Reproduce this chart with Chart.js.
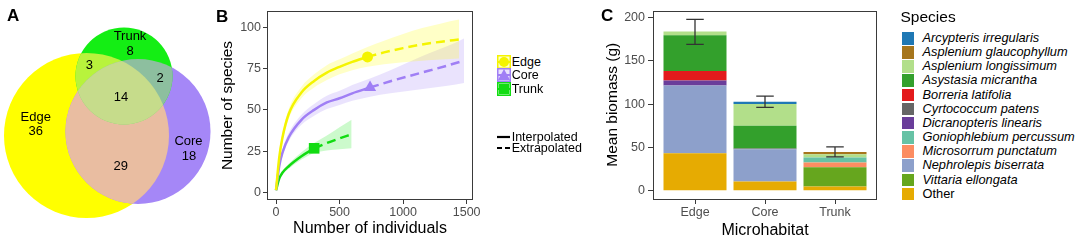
<!DOCTYPE html>
<html lang="en">
<head>
<meta charset="UTF-8">
<title>Species richness and biomass by microhabitat</title>
<script src="https://cdn.jsdelivr.net/npm/chart.js"></script>
<style>
  body { margin: 0; background: #fff; font-family: "Liberation Sans", Arial, sans-serif; }
  #fig { position: relative; width: 1084px; height: 240px; overflow: hidden; }
  canvas { position: absolute; top: 0; }
  .tag { position: absolute; font-weight: bold; font-size: 17px; line-height: 17px; }
  .row { position: absolute; white-space: nowrap; color: #000; }
  .row svg, .row .key { position: absolute; left: 0; }
</style>
</head>
<body>
<div id="fig">
  <canvas id="venn" width="215" height="240" style="left:0"></canvas>
  <canvas id="rare" width="280" height="240" style="left:210px"></canvas>
  <canvas id="bio" width="290" height="240" style="left:590px"></canvas>
  <div class="tag" style="left:7px;top:7px">A</div>
  <div class="tag" style="left:216px;top:8px">B</div>
  <div class="tag" style="left:601px;top:7px">C</div>
  <div id="legB"></div>
  <div id="legC"></div>
</div>

<script>
// ---- A: Venn counts ----
const vennSets = ['Edge', 'Trunk', 'Core'];
const vennRegions = ['Edge', 'Trunk', 'Core', 'Edge+Trunk', 'Trunk+Core', 'Edge+Core', 'All'];
const vennCounts = [36, 8, 18, 3, 2, 29, 14];

// ---- B: rarefaction (interpolated) and extrapolated species curves ----
const edgeInterpX = [0, 25, 50, 100, 200, 300, 400, 500, 600, 720];
const edgeInterpY = [1.5, 21, 33, 47.5, 60.5, 67.5, 72.5, 76, 79, 82];
const edgeExtrapX = [720, 850, 1000, 1150, 1300, 1440];
const edgeExtrapY = [82, 84.7, 87.3, 89.5, 91.2, 92.5];
const edgeLower = [1.5, 19, 30.5, 44.5, 57, 63.5, 68, 71.5, 74, 76, 77.5, 78.8, 79.7, 80.4, 81];
const edgeUpper = [1.5, 23, 35.5, 50.5, 64, 71.5, 77, 80.5, 84, 88, 91.8, 95.8, 99.4, 102.2, 104.5];

const coreInterpX = [0, 25, 50, 100, 200, 300, 400, 500, 600, 740];
const coreInterpY = [1.5, 16, 24, 33.5, 44, 50, 54.5, 57, 60, 63.5];
const coreExtrapX = [740, 900, 1050, 1200, 1350, 1480];
const coreExtrapY = [63.5, 67.3, 70.5, 73.6, 76.8, 79.8];
const coreLower = [1.5, 14.5, 22, 31, 41, 46.5, 50.5, 53, 55.5, 58, 60, 61.5, 63, 64.5, 66.3];
const coreUpper = [1.5, 17.5, 26, 36, 47, 53.5, 58.5, 61.5, 65, 69, 74, 79, 84, 88.5, 93.2];

const trunkInterpX = [0, 25, 50, 100, 200, 300];
const trunkInterpY = [1.5, 8.5, 12, 16, 22, 26.8];
const trunkExtrapX = [300, 400, 500, 595];
const trunkExtrapY = [26.8, 30, 32.8, 35.3];
const trunkLower = [1.5, 7.5, 11, 14.5, 20, 24, 25.5, 26.3, 26.8];
const trunkUpper = [1.5, 9.5, 13, 17.5, 24.5, 30, 34.5, 39.5, 44];

const richTicksX = [0, 500, 1000, 1500];
const richTicksY = [0, 25, 50, 75, 100];

// ---- C: mean biomass (g) per microhabitat, stacked by species ----
const microhabitats = ['Edge', 'Core', 'Trunk'];
const species = ['Arcypteris irregularis', 'Asplenium glaucophyllum', 'Asplenium longissimum',
  'Asystasia micrantha', 'Borreria latifolia', 'Cyrtococcum patens', 'Dicranopteris linearis',
  'Goniophlebium percussum', 'Microsorrum punctatum', 'Nephrolepis biserrata', 'Vittaria ellongata', 'Other'];
const arcypteris   = [0, 2.7, 0];
const aGlauco      = [0, 0, 2.6];
const aLongis      = [4.2, 25, 3.9];
const asystasia    = [41.5, 26.4, 0];
const borreria     = [10.8, 0, 0];
const cyrtococcum  = [0, 0.8, 0];
const dicranopteris = [5.8, 0, 0];
const goniophlebium = [0, 0, 5.8];
const microsorrum  = [0, 0, 5.3];
const nephrolepis  = [78.3, 37.3, 0];
const vittaria     = [0, 0, 22.3];
const other        = [43.4, 10.7, 4.9];
const meanBiomass = [183.7, 102.9, 44.9];
const seBiomass = [14.4, 6.5, 5.7];
const biomassTicks = [0, 50, 100, 150, 200];

// ---- styles ----
const speciesColors = ['#1f78b4', '#a6761d', '#b2df8a', '#33a02c', '#e31a1c', '#666666',
  '#6a3d9a', '#66c2a5', '#fc8d62', '#8da0cb', '#66a61e', '#e6ab02'];
const FONT = "'Liberation Sans', Arial, sans-serif";
Chart.defaults.font.family = FONT;
Chart.defaults.animation = false;
Chart.defaults.plugins.legend.display = false;
Chart.defaults.plugins.tooltip.enabled = false;

// frame around the plotting panel
const panelBox = {
  id: 'panelBox',
  afterDraw(chart) {
    const a = chart.chartArea, ctx = chart.ctx;
    ctx.save();
    ctx.strokeStyle = '#3a3a3a';
    ctx.lineWidth = 1;
    ctx.strokeRect(Math.round(a.left) + 0.5, Math.round(a.top) + 0.5,
      Math.round(a.right - a.left) - 1, Math.round(a.bottom - a.top) - 1);
    ctx.restore();
  }
};

// ================= A: Venn =================
// circle geometry in panel units (the panel is 215 x 240)
const vennCircles = [
  { cx: 86.5, cy: 135.5, r: 82.5 },  // Edge
  { cx: 124, cy: 76, r: 48.5 },      // Trunk
  { cx: 138, cy: 131.5, r: 72.5 }    // Core
];
const vennRegionColor = ['#ffff00', '#14ee14', '#a587f7', '#b8f33c', '#8dbf9f', '#e9bda1', '#c6dc8b'];
const vennRegionSets = [[0], [1], [2], [0, 1], [1, 2], [0, 2], [0, 1, 2]];
const vennNamePos = [[35.7, 117], [130, 36.5], [188.5, 141.5]];
const vennCountPos = [[35.7, 131.5], [130, 51], [189, 156], [89.3, 65], [160, 78], [120.7, 166], [121, 97]];

const vennPlugin = {
  id: 'vennPlugin',
  afterDatasetsDraw(chart) {
    const { ctx, scales: { x, y } } = chart;
    const circ = (i) => {
      const c = vennCircles[i];
      const px = x.getPixelForValue(c.cx), py = y.getPixelForValue(c.cy);
      const pr = Math.abs(x.getPixelForValue(c.cx + c.r) - px);
      ctx.beginPath();
      ctx.arc(px, py, pr, 0, Math.PI * 2);
    };
    // single circles, then the overlaps painted over them
    [0, 2, 1].forEach(i => {
      circ(i);
      ctx.fillStyle = vennRegionColor[i];
      ctx.fill();
    });
    [5, 3, 4, 6].forEach(k => {
      ctx.save();
      vennRegionSets[k].forEach(i => { circ(i); ctx.clip(); });
      ctx.fillStyle = vennRegionColor[k];
      ctx.fillRect(0, 0, chart.width, chart.height);
      ctx.restore();
    });
    ctx.save();
    ctx.fillStyle = '#000';
    ctx.font = '13px ' + FONT;
    ctx.textAlign = 'center';
    ctx.textBaseline = 'middle';
    vennSets.forEach((s, i) => {
      ctx.fillText(s, x.getPixelForValue(vennNamePos[i][0]), y.getPixelForValue(vennNamePos[i][1]));
    });
    vennCounts.forEach((n, i) => {
      ctx.fillText(String(n), x.getPixelForValue(vennCountPos[i][0]), y.getPixelForValue(vennCountPos[i][1]));
    });
    ctx.restore();
  }
};

new Chart(document.getElementById('venn'), {
  type: 'scatter',
  data: { datasets: [{ data: [] }] },
  options: {
    responsive: false,
    layout: { padding: 0 },
    scales: {
      x: { type: 'linear', min: 0, max: 215, display: false },
      y: { type: 'linear', min: 0, max: 240, reverse: true, display: false }
    }
  },
  plugins: [vennPlugin]
});

// ================= B: rarefaction curves =================
const pts = (xs, ys) => xs.map((v, i) => ({ x: v, y: ys[i] }));
const habitats = [
  { name: 'Edge', col: '#f4f400', band: 'rgba(255,255,0,0.22)', ix: edgeInterpX, iy: edgeInterpY,
    ex: edgeExtrapX, ey: edgeExtrapY, lo: edgeLower, hi: edgeUpper, marker: 'circle', size: 5.5 },
  { name: 'Core', col: '#a07ff5', band: 'rgba(160,128,247,0.22)', ix: coreInterpX, iy: coreInterpY,
    ex: coreExtrapX, ey: coreExtrapY, lo: coreLower, hi: coreUpper, marker: 'triangle', size: 7 },
  { name: 'Trunk', col: '#12dc12', band: 'rgba(0,230,0,0.2)', ix: trunkInterpX, iy: trunkInterpY,
    ex: trunkExtrapX, ey: trunkExtrapY, lo: trunkLower, hi: trunkUpper, marker: 'rect', size: 7.5 }
];

const bSets = [];
habitats.forEach(h => {
  const bandX = h.ix.concat(h.ex.slice(1));
  bSets.push({ data: pts(bandX, h.lo), borderWidth: 0, borderColor: 'transparent', pointRadius: 0,
    fill: false, cubicInterpolationMode: 'monotone', order: 3 });
  bSets.push({ data: pts(bandX, h.hi), borderWidth: 0, borderColor: 'transparent', pointRadius: 0,
    fill: '-1', backgroundColor: h.band, cubicInterpolationMode: 'monotone', order: 3 });
  bSets.push({ data: pts(h.ix, h.iy), borderColor: h.col, borderWidth: 2.5, pointRadius: 0,
    cubicInterpolationMode: 'monotone', order: 2 });
  bSets.push({ data: pts(h.ex, h.ey), borderColor: h.col, borderWidth: 2.5, borderDash: [9, 5],
    pointRadius: 0, cubicInterpolationMode: 'monotone', order: 2 });
  const last = h.ix.length - 1;
  bSets.push({ data: [{ x: h.ix[last], y: h.iy[last] }], showLine: false, pointStyle: h.marker,
    pointRadius: h.size, backgroundColor: h.col, borderColor: h.col, borderWidth: 0, order: 1 });
});

const tickFont = { size: 12.5 };
new Chart(document.getElementById('rare'), {
  type: 'line',
  data: { datasets: bSets },
  options: {
    responsive: false,
    layout: { padding: { top: 11, right: 17, bottom: 0, left: 0 } },
    scales: {
      x: {
        type: 'linear', min: -71, max: 1550,
        afterFit: s => { s.height = 40; },
        afterBuildTicks: s => { s.ticks = richTicksX.map(v => ({ value: v })); },
        ticks: { font: tickFont, color: '#4d4d4d', padding: 1.5, maxRotation: 0, autoSkip: false,
          callback: v => String(v) },
        grid: { drawOnChartArea: false, drawTicks: true, tickLength: 4, color: '#3a3a3a' },
        border: { display: false },
        title: { display: true, text: 'Number of individuals', color: '#000', font: { size: 16 }, padding: { top: 0, bottom: 1.4 } }
      },
      y: {
        type: 'linear', min: -4.4, max: 109.7,
        afterFit: s => { s.width = 57; },
        afterBuildTicks: s => { s.ticks = richTicksY.map(v => ({ value: v })); },
        ticks: { font: tickFont, color: '#4d4d4d', padding: 2, autoSkip: false, callback: v => String(v) },
        grid: { drawOnChartArea: false, drawTicks: true, tickLength: 4, color: '#3a3a3a' },
        border: { display: false },
        title: { display: true, text: 'Number of species', color: '#000', font: { size: 15.5 }, padding: { top: 8.7, bottom: 0 } }
      }
    }
  },
  plugins: [panelBox]
});

// legend for B
const legB = document.getElementById('legB');
function keySvg(h) {
  let m;
  if (h.marker === 'circle') m = `<circle cx="7" cy="7" r="5" fill="${h.col}"/>`;
  else if (h.marker === 'triangle') m = `<polygon points="7,1 13,12 1,12" fill="${h.col}"/>`;
  else m = `<rect x="2" y="2" width="10" height="10" fill="${h.col}"/>`;
  return `<svg width="14" height="14" style="top:0"><rect x="0.75" y="0.75" width="12.5" height="12.5" fill="${h.band}" stroke="${h.col}" stroke-width="1.5"/>` +
    `<line x1="0" y1="7" x2="14" y2="7" stroke="${h.col}" stroke-width="2"/>${m}</svg>`;
}
habitats.forEach((h, i) => {
  const top = 54.7 + i * 13.7;
  legB.insertAdjacentHTML('beforeend',
    `<div class="row" style="left:497px;top:${top}px;height:14px;font-size:12.5px;line-height:14px">${keySvg(h)}<span style="margin-left:14.7px">${h.name}</span></div>`);
});
const lineTypes = ['Interpolated', 'Extrapolated'];
const lineDash = ['', '5,3'];
lineTypes.forEach((t, i) => {
  const top = 129.7 + i * 11.6;
  legB.insertAdjacentHTML('beforeend',
    `<div class="row" style="left:497px;top:${top}px;height:14px;font-size:12.5px;line-height:14px">` +
    `<svg width="14" height="14" style="top:0"><line x1="0" y1="7" x2="13" y2="7" stroke="#000" stroke-width="2.2" stroke-dasharray="${lineDash[i]}"/></svg>` +
    `<span style="margin-left:14.7px">${t}</span></div>`);
});

// ================= C: stacked biomass =================
const seriesBySpecies = [arcypteris, aGlauco, aLongis, asystasia, borreria, cyrtococcum,
  dicranopteris, goniophlebium, microsorrum, nephrolepis, vittaria, other];

// stacking goes bottom-up, so the legend order is reversed here
const cSets = species.map((s, i) => ({
  label: s,
  data: seriesBySpecies[i].map((v, k) => ({ x: k + 1, y: v })),
  backgroundColor: speciesColors[i],
  borderWidth: 0,
  barPercentage: 0.9,
  categoryPercentage: 1
})).reverse();

const errorBars = {
  id: 'errorBars',
  afterDatasetsDraw(chart) {
    const { ctx, scales: { x, y } } = chart;
    ctx.save();
    ctx.strokeStyle = '#333';
    ctx.lineWidth = 1.3;
    meanBiomass.forEach((m, i) => {
      const cx = x.getPixelForValue(i + 1);
      const hw = x.getPixelForValue(i + 1.125) - cx;
      const yt = y.getPixelForValue(m + seBiomass[i]);
      const yb = y.getPixelForValue(m - seBiomass[i]);
      ctx.beginPath();
      ctx.moveTo(cx - hw, yt); ctx.lineTo(cx + hw, yt);
      ctx.moveTo(cx, yt); ctx.lineTo(cx, yb);
      ctx.moveTo(cx - hw, yb); ctx.lineTo(cx + hw, yb);
      ctx.stroke();
    });
    ctx.restore();
  }
};

new Chart(document.getElementById('bio'), {
  type: 'bar',
  data: { datasets: cSets },
  options: {
    responsive: false,
    layout: { padding: { top: 10, right: 3, bottom: 0, left: 0 } },
    scales: {
      x: {
        type: 'linear', min: 0.4, max: 3.6, stacked: true, offset: false,
        afterFit: s => { s.height = 41; },
        afterBuildTicks: s => { s.ticks = microhabitats.map((c, i) => ({ value: i + 1 })); },
        ticks: { font: { size: 12.5 }, color: '#4d4d4d', padding: 1.5, maxRotation: 0, autoSkip: false,
          callback: v => microhabitats[Math.round(v) - 1] },
        grid: { offset: false, drawOnChartArea: false, drawTicks: true, tickLength: 5, color: '#3a3a3a' },
        border: { display: false },
        title: { display: true, text: 'Microhabitat', color: '#000', font: { size: 16 }, padding: { top: 0, bottom: 0 } }
      },
      y: {
        type: 'linear', min: -9.6, max: 208.4, stacked: true,
        afterFit: s => { s.width = 63; },
        afterBuildTicks: s => { s.ticks = biomassTicks.map(v => ({ value: v })); },
        ticks: { font: { size: 12.5 }, color: '#4d4d4d', padding: 3, autoSkip: false, callback: v => String(v) },
        grid: { drawOnChartArea: false, drawTicks: true, tickLength: 5, color: '#3a3a3a' },
        border: { display: false },
        title: { display: true, text: 'Mean biomass (g)', color: '#000', font: { size: 15.5 }, padding: { top: 13.7, bottom: 0 } }
      }
    }
  },
  plugins: [errorBars, panelBox]
});

// legend for C
const legC = document.getElementById('legC');
legC.insertAdjacentHTML('beforeend',
  '<div class="row" style="left:900.5px;top:7px;font-size:15.5px;line-height:19px">Species</div>');
species.forEach((s, i) => {
  const top = 31 + i * 14.15;
  const style = s === 'Other' ? 'normal' : 'italic';
  legC.insertAdjacentHTML('beforeend',
    `<div class="row" style="left:900.5px;top:${top}px;height:13.5px;font-size:12.8px;line-height:13.5px">` +
    `<span class="key" style="top:0;width:12.5px;height:12.5px;background:${speciesColors[i]};border:0.5px solid #fff"></span>` +
    `<span style="margin-left:22px;font-style:${style}">${s}</span></div>`);
});
</script>
</body>
</html>
